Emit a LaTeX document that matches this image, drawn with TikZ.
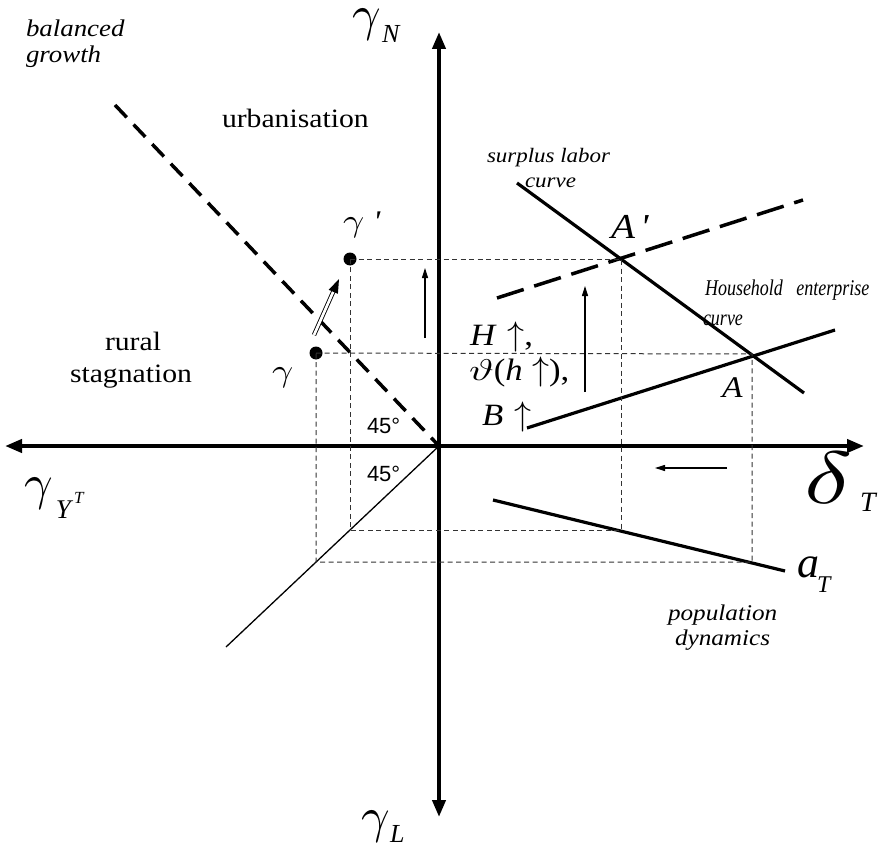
\documentclass[tikz,border=0pt]{standalone}
\usepackage{fontspec}
\usepackage{graphicx}
\setmainfont{Liberation Serif}[FakeStretch=1.12]
\newfontfamily\mathf{Liberation Serif}
\newfontfamily\wmathf{Liberation Serif}[FakeStretch=1.12]
\newfontfamily\sansf{Liberation Sans}
\newfontfamily\condf{Liberation Serif}[FakeStretch=0.8]
\usetikzlibrary{arrows.meta}
\newcommand{\fs}[1]{\fontsize{#1}{#1}\selectfont}
\newcommand{\mg}[2]{\scalebox{#1}{\fontsize{10}{12}\selectfont$#2$}}
\newcommand{\mgg}[3]{\scalebox{#1}[#2]{\fontsize{10}{12}\selectfont$#3$}}
\begin{document}
\begin{tikzpicture}[x=1pt,y=-1pt,
  lbl/.style={inner sep=0pt,outer sep=0pt,anchor=base west},
  axis/.style={line width=4pt,-{Triangle[length=17pt,width=13pt]}},
  thickdash/.style={line width=3.5pt,dash pattern=on 17pt off 10pt},
  longdash/.style={line width=3.5pt,dash pattern=on 28pt off 11pt},
  curve/.style={line width=3.2pt},
  guide/.style={line width=1pt,dash pattern=on 5pt off 3.5pt,black!80},
  thinarrow/.style={line width=1.1pt,-{Triangle[length=10pt,width=6pt]}},
  dot/.style={circle,fill=black,inner sep=0pt,minimum size=13pt}]
\useasboundingbox (0,0) rectangle (887,848);
% axes
\coordinate (O) at (439,446);
\coordinate (xl) at (5,446);
\coordinate (xr) at (864,446);
\coordinate (yt) at (439,32);
\coordinate (yb) at (439,817);
\draw[axis] (O) -- (xl);
\draw[axis] (O) -- (xr);
\draw[axis] (O) -- (yt);
\draw[axis] (O) -- (yb);
% 45 degree lines
\coordinate (bg) at (115,105);
\draw[thickdash] (bg) -- (O);
\coordinate (ll) at (226,647);
\draw[line width=1.3pt] (O) -- (ll);
% curves
\coordinate (s1) at (517,183);
\coordinate (s2) at (804,393);
\draw[curve] (s1) -- (s2);
\coordinate (h1) at (527,428);
\coordinate (h2) at (835,330);
\draw[curve] (h1) -- (h2);
\coordinate (d1) at (497,298);
\coordinate (d2) at (803,200);
\draw[longdash] (d1) -- (d2);
\coordinate (pd1) at (493,500);
\coordinate (pd2) at (785,571);
\draw[curve] (pd1) -- (pd2);
% key points
\coordinate (Ap) at (621,259);
\coordinate (A) at (752,354);
\coordinate (p1) at (621,530);
\coordinate (p2) at (752,562);
\coordinate (q1) at (350,530);
\coordinate (q2) at (316,562);
\node[dot] (gp) at (350,259) {};
\node[dot] (g) at (316,353) {};
% guides
\draw[guide] (gp.center) -- (Ap) -- (p1) -- (q1) -- (gp.center);
\draw[guide] (g.center) -- (A) -- (p2) -- (q2) -- (g.center);
% arrows
\coordinate (a1s) at (425,338);
\coordinate (a1e) at (425,268);
\draw[thinarrow] (a1s) -- (a1e);
\coordinate (a2s) at (585,392);
\coordinate (a2e) at (585,286);
\draw[thinarrow] (a2s) -- (a2e);
\coordinate (a3s) at (727,468);
\coordinate (a3e) at (655,468);
\draw[thinarrow] (a3s) -- (a3e);
% double arrow
\coordinate (da1) at (314,335);
\coordinate (da2) at (334,290);
\coordinate (dtip) at (339,279);
\draw[line width=0.9pt,double=white,double distance=2.6pt] (da1) -- (da2);
\fill (dtip) -- (337.9,293.8) -- (328.7,289.8) -- cycle;
% labels
\node[lbl,font=\fs{24}\itshape] (t1) at (26,37) {balanced};
\node[lbl,font=\fs{24}\itshape] (t2) at (26,63) {growth};
\node[lbl,font=\fs{26.5}] (t3) at (222,128) {urbanisation};
\node[lbl,font=\fs{26.5}] (t4) at (105,350) {rural};
\node[lbl,font=\fs{26.5}] (t5) at (70,382) {stagnation};
\node[lbl,font=\wmathf\fs{30}] (t6) at (343,232) {\mgg{3.7}{3.2}{\gamma}\hspace{0.3em}\itshape '};
\node[lbl] (t7) at (272,381) {\mgg{3.7}{3.2}{\gamma}};
\node[lbl,font=\sansf\fs{22}] (t8) at (367,433) {45°};
\node[lbl,font=\sansf\fs{22}] (t9) at (367,481) {45°};
\node[lbl,font=\fs{20.5}\itshape] (t10) at (487,163) {surplus labor};
\node[lbl,font=\fs{20.5}\itshape] (t11) at (525,188) {curve};
\node[lbl,font=\condf\fs{22.5}\itshape] (t12) at (705,295) {Household\hspace{0.6em}enterprise};
\node[lbl,font=\condf\fs{22.5}\itshape] (t13) at (703,325) {curve};
\node[lbl,font=\wmathf\fs{35}\itshape] (t14) at (611,239) {A\hspace{0.15em}'};
\node[lbl,font=\fs{30}\itshape] (t15) at (722,397) {A};
\node[lbl,font=\fs{31}] (t16) at (470,345) {\itshape H\hspace{0.4em}\mg{3.4}{\uparrow}\upshape,};
\node[lbl,font=\fs{31}] (t17) at (469,380) {\mgg{4.2}{3}{\vartheta}\upshape(\itshape h\hspace{0.3em}\mg{3.4}{\uparrow}\upshape),};
\node[lbl,font=\fs{31}] (t18) at (482,425) {\itshape B\hspace{0.35em}\mg{3.4}{\uparrow}};
\node[lbl,font=\fs{22.5}\itshape] (t19) at (668,620) {population};
\node[lbl,font=\fs{22.5}\itshape] (t20) at (675,645) {dynamics};
% axis labels
\node[lbl] (gN) at (352,31) {\mg{5}{\gamma}};
\node[lbl,font=\mathf\fs{26}\itshape] (N) at (382,43) {N};
\node[lbl] (gL) at (361,832) {\mg{5}{\gamma}};
\node[lbl,font=\mathf\fs{26}\itshape] (L) at (390,842) {L};
\node[lbl] (gY) at (24,499) {\mg{5}{\gamma}};
\node[lbl,font=\mathf\fs{27}\itshape] (Y) at (56,518) {Y};
\node[lbl,font=\mathf\fs{17}\itshape] (YT) at (74,503) {T};
\node[lbl] (dT) at (804,503) {\mgg{10}{7.4}{\delta}};
\node[lbl,font=\mathf\fs{28}\itshape] (T1) at (860,511) {T};
\node[lbl,font=\mathf\fs{44}\itshape] (aT) at (797,577) {a};
\node[lbl,font=\mathf\fs{24}\itshape] (T2) at (817,592) {T};
\end{tikzpicture}
\end{document}
